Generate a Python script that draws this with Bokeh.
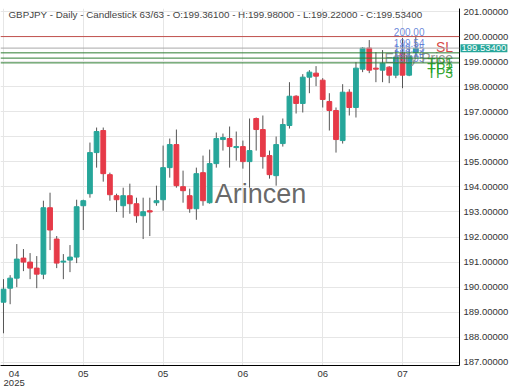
from bokeh.plotting import figure
from bokeh.models import FixedTicker, Span, Label, PrintfTickFormatter, Range1d, ColumnDataSource
from bokeh.core.properties import value
from bokeh.embed import file_html
from bokeh.resources import INLINE

symbol = "GBPJPY"
timeframe = "Daily"
chart_type = "Candlestick"

opens = [189.40, 189.96, 190.36, 191.16, 191.00, 190.76, 190.52, 193.17, 191.92, 191.00,
         191.08, 191.20, 193.25, 193.73, 195.37, 196.25, 194.49, 193.65, 193.25, 193.65,
         193.33, 192.85, 193.05, 193.37, 193.49, 194.77, 195.69, 194.01, 193.65, 193.13,
         194.57, 193.37, 194.93, 195.89, 195.93, 195.57, 195.61, 195.01, 196.73, 196.29,
         195.25, 194.45, 195.73, 196.45, 197.62, 197.33, 198.38, 198.54, 198.26, 197.41,
         197.05, 195.85, 197.78, 197.17, 198.70, 199.54, 198.74, 198.66, 198.78, 198.46,
         199.34, 198.46, 199.361]
highs = [190.32, 190.48, 191.72, 191.52, 191.36, 191.24, 193.45, 193.77, 192.04, 191.32,
         191.68, 193.49, 193.49, 195.77, 196.37, 196.37, 194.57, 193.73, 193.97, 194.13,
         193.57, 193.57, 193.57, 194.05, 195.65, 195.93, 196.29, 194.65, 193.93, 194.77,
         195.25, 195.49, 196.17, 196.13, 196.41, 196.21, 195.85, 196.73, 196.77, 196.85,
         195.45, 196.01, 196.73, 198.18, 197.66, 198.50, 198.66, 198.82, 198.34, 197.74,
         197.17, 198.10, 197.90, 198.98, 199.58, 199.86, 199.38, 199.46, 198.82, 199.46,
         199.94, 199.58, 199.98]
lows = [188.16, 189.32, 190.00, 190.64, 190.32, 189.96, 190.32, 191.48, 190.76, 190.32,
        190.60, 190.96, 192.28, 193.57, 194.77, 194.21, 193.45, 193.00, 192.77, 192.93,
        192.57, 191.92, 192.04, 193.25, 193.05, 194.37, 193.97, 193.37, 192.97, 192.69,
        193.25, 193.33, 194.77, 195.45, 194.77, 195.05, 194.73, 193.97, 195.45, 194.73,
        194.33, 194.05, 195.61, 196.33, 196.93, 196.97, 197.74, 198.02, 197.17, 196.25,
        195.37, 195.73, 196.85, 196.77, 198.58, 198.54, 198.18, 198.18, 198.14, 198.34,
        197.94, 198.42, 199.22]
closes = [189.92, 190.36, 191.12, 191.00, 190.76, 190.52, 193.17, 192.28, 190.96, 191.04,
          191.20, 193.21, 193.45, 195.37, 196.21, 194.53, 193.69, 193.49, 193.65, 193.33,
          192.85, 193.01, 193.00, 193.45, 194.77, 195.69, 194.05, 193.85, 193.13, 194.53,
          193.45, 194.93, 195.93, 195.97, 195.61, 195.61, 195.01, 195.45, 196.29, 195.21,
          194.49, 195.69, 196.49, 197.62, 197.33, 198.38, 198.58, 198.42, 197.49, 197.05,
          195.89, 197.78, 197.17, 198.74, 199.54, 198.66, 198.70, 198.94, 198.46, 199.18,
          198.46, 199.22, 199.534]

grid_positions = [0, 12, 24, 36, 48, 60]
month_tick_positions = [1.6, 12, 24, 36, 48, 60]
month_labels = ["04\n2025", "05", "05", "06", "06", "07"]
price_ticks = list(range(187, 202))

level_names = ["SL", "Entry Price", "TP1", "TP2", "TP3"]
level_values = [200.00, 199.54, 199.35, 199.14, 198.95]
level_line_colors = ["#c0504d", "#a8a8a8", "#2e7d32", "#2e7d32", "#2e7d32"]
level_text_colors = ["#d32f2f", "#8a8a8a", "#1e9e1e", "#1e9e1e", "#1e9e1e"]
level_text_sizes = ["14px", "14px", "14px", "14px", "14px"]

UP = "#26a69a"
DOWN = "#e63a48"
FONT = "Liberation Sans"

n = len(opens)
idx = list(range(n))
tops = [max(o, c) for o, c in zip(opens, closes)]
bottoms = [min(o, c) for o, c in zip(opens, closes)]
colors = [UP if c >= o else DOWN for o, c in zip(opens, closes)]

W, H = 520, 390
RB = 61
p = figure(width=W, height=H, output_backend="svg", toolbar_location=None,
           y_axis_location="right", x_range=Range1d(-0.45, 68.57),
           y_range=Range1d(186.874, 201.12), min_border_left=0, min_border_top=0,
           min_border_right=RB, min_border_bottom=21)
p.outline_line_color = None
p.background_fill_color = "white"

# axes
p.yaxis.ticker = FixedTicker(ticks=price_ticks)
p.yaxis.formatter = PrintfTickFormatter(format="%.5f")
p.xaxis.ticker = FixedTicker(ticks=month_tick_positions)
p.xaxis.major_label_overrides = {pos: lab for pos, lab in zip(month_tick_positions, month_labels)}
for ax in (p.xaxis[0], p.yaxis[0]):
    ax.axis_line_color = "black"
    ax.axis_line_width = 1
    ax.major_tick_line_color = None
    ax.minor_tick_line_color = None
    ax.major_tick_out = 0
    ax.major_tick_in = 0
    ax.minor_tick_out = 0
    ax.major_label_text_font = FONT
    ax.major_label_text_font_size = "9.5px"
    ax.major_label_text_color = "#333333"
p.xaxis.major_label_text_line_height = 0.85
p.xaxis.major_label_standoff = 2
p.yaxis.major_label_standoff = 4
p.xgrid.ticker = FixedTicker(ticks=grid_positions)
p.xgrid.grid_line_color = "#e6e6e6"
p.ygrid.grid_line_color = "#e6e6e6"

# watermark
p.add_layout(Label(x=260, y=193.73, x_units="screen", y_units="data", text="Arincen",
                   text_font=FONT, text_font_size="27px", text_color="#555555",
                   text_alpha=0.9, text_align="center", text_baseline="middle"))

# candles
src = ColumnDataSource(dict(x=idx, o=opens, h=highs, l=lows, c=closes,
                            top=tops, bottom=bottoms, color=colors))
p.segment(x0="x", y0="l", x1="x", y1="h", source=src, line_color="#555555", line_width=1)
p.vbar(x="x", width=0.72, top="top", bottom="bottom", source=src,
       fill_color="color", line_color="color", line_width=1)

# levels
for v, lc in zip(level_values, level_line_colors):
    p.add_layout(Span(location=v, dimension="width", line_color=lc, line_width=1))

lvl = ColumnDataSource(dict(v=level_values, vt=["%.2f" % v for v in level_values],
                            name=level_names, tc=level_text_colors, ts=level_text_sizes))
p.text(x=63.3, y="v", text="vt", source=lvl, text_align="right", text_baseline="bottom",
       y_offset=-1, text_font=value(FONT), text_font_size="10px", text_color="#5b7bd5",
       text_alpha=0.9)
p.text(x=67.6, y="v", text="name", source=lvl, text_align="right", text_baseline="top",
       y_offset=2, text_font=value(FONT), text_font_size="ts", text_color="tc",
       text_alpha=0.9)

# title line
title = (f"{symbol} - {timeframe} - {chart_type}    {n}/{n} - O:{opens[-1]:.5f} - "
         f"H:{highs[-1]:.5f} - L:{lows[-1]:.5f} - C:{closes[-1]:.5f}")
p.add_layout(Label(x=8, y=200.88, x_units="screen", y_units="data", text=title,
                   text_font=FONT, text_font_size="9.8px", text_color="#444444",
                   text_baseline="alphabetic"))

# current price tag on axis (side panel so it is not clipped to the frame)
tag = Label(x=W - RB + 1, y=closes[-1], x_units="screen", y_units="data",
            text="%.5f" % closes[-1], text_font=FONT, text_font_size="9.5px",
            text_color="white", background_fill_color=UP, text_baseline="middle",
            padding=1)
p.add_layout(tag, "above")

open("out.html", "w").write(file_html(p, INLINE))
